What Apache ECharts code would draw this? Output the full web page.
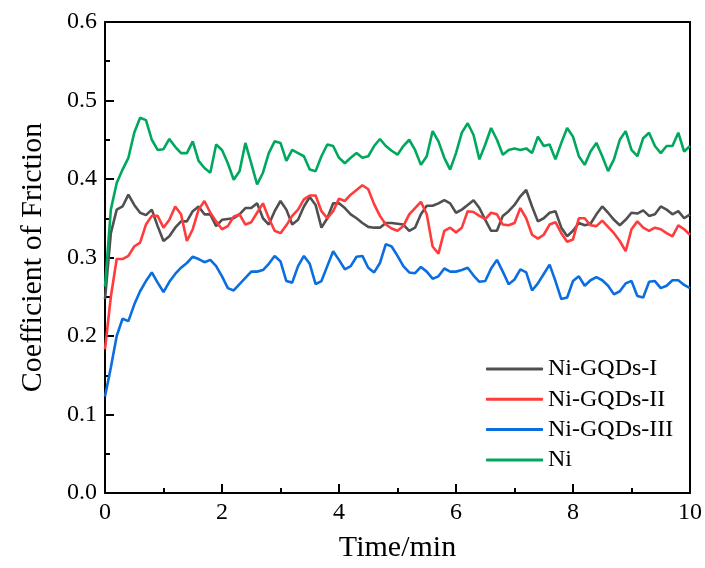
<!DOCTYPE html>
<html>
<head>
<meta charset="utf-8">
<script src="https://cdn.jsdelivr.net/npm/echarts@6/dist/echarts.min.js"></script>
<style>
html,body{margin:0;padding:0;background:#fff;}
#chart{width:705px;height:568px;}
</style>
</head>
<body>
<div id="chart"></div>
<script>
// time axis (min), sampled every 0.1 min
var times = [0,0.1,0.2,0.3,0.4,0.5,0.6,0.7,0.8,0.9,
  1,1.1,1.2,1.3,1.4,1.5,1.6,1.7,1.8,1.9,
  2,2.1,2.2,2.3,2.4,2.5,2.6,2.7,2.8,2.9,
  3,3.1,3.2,3.3,3.4,3.5,3.6,3.7,3.8,3.9,
  4,4.1,4.2,4.3,4.4,4.5,4.6,4.7,4.8,4.9,
  5,5.1,5.2,5.3,5.4,5.5,5.6,5.7,5.8,5.9,
  6,6.1,6.2,6.3,6.4,6.5,6.6,6.7,6.8,6.9,
  7,7.1,7.2,7.3,7.4,7.5,7.6,7.7,7.8,7.9,
  8,8.1,8.2,8.3,8.4,8.5,8.6,8.7,8.8,8.9,
  9,9.1,9.2,9.3,9.4,9.5,9.6,9.7,9.8,9.9,10];

var names = ['Ni-GQDs-I','Ni-GQDs-II','Ni-GQDs-III','Ni'];
var colors = ['#505050','#ff3b3b','#0a6ee0','#00a85e'];

var cofI = [0.247,0.331,0.361,0.365,0.380,0.367,0.357,0.354,0.361,0.340,
  0.321,0.327,0.338,0.346,0.346,0.359,0.365,0.355,0.355,0.340,
  0.348,0.349,0.350,0.355,0.363,0.363,0.369,0.350,0.342,0.359,
  0.372,0.361,0.342,0.348,0.365,0.377,0.367,0.338,0.350,0.369,
  0.369,0.363,0.355,0.350,0.344,0.339,0.338,0.338,0.344,0.344,
  0.343,0.342,0.334,0.338,0.355,0.366,0.366,0.369,0.373,0.369,
  0.357,0.361,0.367,0.373,0.363,0.348,0.334,0.334,0.353,0.359,
  0.367,0.378,0.386,0.365,0.346,0.350,0.357,0.359,0.338,0.327,
  0.334,0.344,0.341,0.343,0.355,0.365,0.357,0.348,0.341,0.348,
  0.357,0.356,0.360,0.353,0.355,0.365,0.361,0.355,0.359,0.350,0.355];

var cofII = [0.183,0.250,0.298,0.298,0.302,0.314,0.319,0.342,0.353,0.353,
  0.338,0.348,0.365,0.355,0.321,0.336,0.361,0.372,0.357,0.346,
  0.336,0.340,0.352,0.355,0.342,0.345,0.357,0.369,0.350,0.334,
  0.331,0.341,0.353,0.361,0.374,0.379,0.379,0.359,0.350,0.359,
  0.375,0.372,0.380,0.386,0.392,0.387,0.368,0.353,0.342,0.337,
  0.334,0.340,0.355,0.363,0.371,0.355,0.314,0.305,0.334,0.338,
  0.332,0.338,0.359,0.358,0.353,0.349,0.357,0.355,0.342,0.341,
  0.344,0.363,0.350,0.329,0.324,0.329,0.342,0.345,0.331,0.320,
  0.323,0.350,0.350,0.341,0.340,0.347,0.339,0.331,0.321,0.308,
  0.336,0.346,0.338,0.334,0.338,0.336,0.331,0.327,0.341,0.336,0.329];

var cofIII = [0.123,0.160,0.200,0.222,0.219,0.240,0.257,0.270,0.281,0.268,
  0.256,0.269,0.279,0.287,0.293,0.301,0.298,0.294,0.297,0.289,
  0.276,0.261,0.258,0.266,0.274,0.282,0.282,0.284,0.292,0.302,
  0.295,0.270,0.268,0.289,0.302,0.292,0.266,0.270,0.289,0.308,
  0.297,0.285,0.289,0.301,0.302,0.287,0.281,0.293,0.317,0.314,
  0.302,0.289,0.281,0.280,0.288,0.282,0.273,0.276,0.286,0.282,
  0.282,0.284,0.287,0.277,0.269,0.270,0.286,0.297,0.282,0.266,
  0.272,0.285,0.281,0.258,0.267,0.279,0.291,0.270,0.247,0.249,
  0.270,0.276,0.264,0.271,0.275,0.271,0.264,0.253,0.257,0.267,
  0.270,0.251,0.249,0.269,0.270,0.261,0.264,0.271,0.271,0.265,0.261];

var cofNi = [0.263,0.361,0.395,0.412,0.427,0.459,0.478,0.475,0.450,0.437,
  0.438,0.451,0.441,0.433,0.433,0.448,0.423,0.414,0.408,0.444,
  0.437,0.420,0.399,0.410,0.446,0.420,0.393,0.408,0.433,0.448,
  0.446,0.423,0.437,0.433,0.429,0.412,0.410,0.429,0.444,0.442,
  0.427,0.420,0.427,0.433,0.427,0.429,0.442,0.451,0.442,0.436,
  0.431,0.442,0.450,0.437,0.418,0.429,0.461,0.448,0.427,0.412,
  0.433,0.459,0.471,0.456,0.425,0.444,0.465,0.450,0.431,0.437,
  0.439,0.437,0.439,0.433,0.454,0.442,0.444,0.425,0.446,0.465,
  0.454,0.429,0.418,0.435,0.446,0.429,0.410,0.425,0.450,0.461,
  0.437,0.429,0.452,0.459,0.442,0.433,0.442,0.442,0.459,0.435,0.442];

var allValues = [cofI, cofII, cofIII, cofNi];

function pairs(vals){
    var out = [];
    for (var i = 0; i < times.length; i++) {
        out.push([times[i], vals[i]]);
    }
    return out;
}

var font = '"Liberation Serif","Times New Roman",serif';

var series = [];
for (var s = 0; s < names.length; s++) {
    series.push({
        name: names[s],
        type: 'line',
        data: pairs(allValues[s]),
        showSymbol: false,
        symbol: 'none',
        lineStyle: {color: colors[s], width: 2.6},
        itemStyle: {color: colors[s]}
    });
}

var myChart = echarts.init(document.getElementById('chart'));
var option = {
    backgroundColor: '#fff',
    animation: false,
    grid: {left: 105, right: 13, top: 22, bottom: 74},
    legend: {
        data: names,
        orient: 'vertical',
        left: 486,
        top: 357,
        padding: 0,
        icon: 'roundRect',
        itemWidth: 57,
        itemHeight: 3,
        itemGap: 6.3,
        textStyle: {fontFamily: font, fontSize: 24, color: '#000', lineHeight: 24}
    },
    xAxis: [{
        type: 'value',
        min: 0,
        max: 10,
        interval: 2,
        name: 'Time/min',
        nameLocation: 'middle',
        nameGap: 40,
        nameTextStyle: {fontFamily: font, fontSize: 30, color: '#000'},
        axisLine: {show: true, onZero: false, lineStyle: {color: '#000', width: 2}},
        axisTick: {show: true, inside: true, length: 9, lineStyle: {color: '#000', width: 2}},
        minorTick: {show: true, splitNumber: 2, length: 5, lineStyle: {color: '#000', width: 2}},
        splitLine: {show: false},
        axisLabel: {fontFamily: font, fontSize: 24, color: '#000', margin: 8}
    }, {
        type: 'value',
        position: 'top',
        min: 0,
        max: 10,
        axisLine: {show: true, onZero: false, lineStyle: {color: '#000', width: 2}},
        axisTick: {show: false},
        axisLabel: {show: false},
        splitLine: {show: false}
    }],
    yAxis: [{
        type: 'value',
        min: 0,
        max: 0.6,
        interval: 0.1,
        name: 'Coefficient of Friction',
        nameLocation: 'middle',
        nameGap: 57,
        nameTextStyle: {fontFamily: font, fontSize: 30, color: '#000'},
        axisLine: {show: true, onZero: false, lineStyle: {color: '#000', width: 2}},
        axisTick: {show: true, inside: true, length: 9, lineStyle: {color: '#000', width: 2}},
        minorTick: {show: true, splitNumber: 2, length: 5, lineStyle: {color: '#000', width: 2}},
        splitLine: {show: false},
        axisLabel: {
            fontFamily: font, fontSize: 24, color: '#000', margin: 8,
            formatter: function (v) { return v.toFixed(1); }
        }
    }, {
        type: 'value',
        position: 'right',
        min: 0,
        max: 0.6,
        axisLine: {show: true, onZero: false, lineStyle: {color: '#000', width: 2}},
        axisTick: {show: false},
        axisLabel: {show: false},
        splitLine: {show: false}
    }],
    series: series
};
myChart.setOption(option);
</script>
</body>
</html>
